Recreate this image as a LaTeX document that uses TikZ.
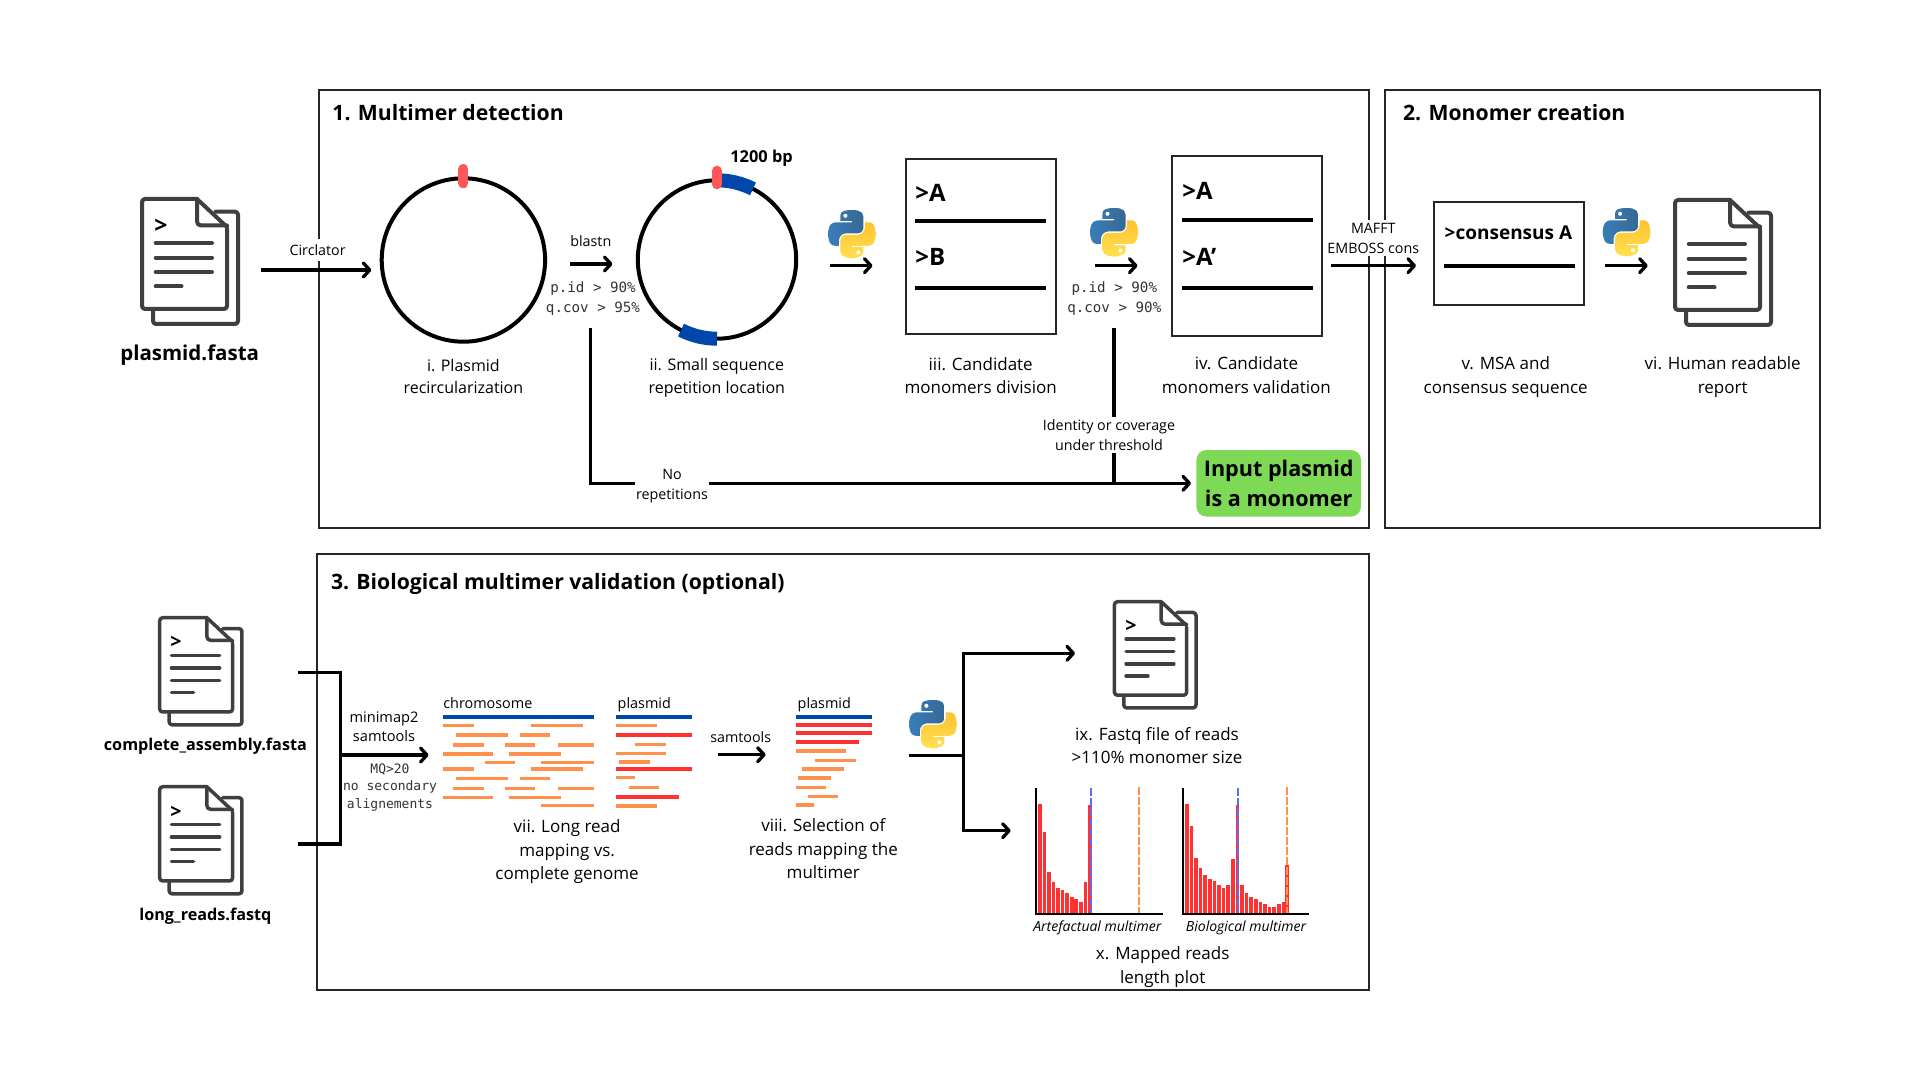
\documentclass[tikz,border=0pt]{standalone}
\usepackage{fontspec}
\usetikzlibrary{arrows.meta,svg.path}
\setmainfont{Open Sans}
\newfontfamily\monof{DejaVu Sans Mono}
\definecolor{filegray}{HTML}{3F3F3F}
\definecolor{seqblue}{HTML}{0047AB}
\definecolor{markred}{HTML}{FF5757}
\definecolor{readorange}{HTML}{FF914D}
\definecolor{readred}{HTML}{FF3131}
\definecolor{okgreen}{HTML}{7ED957}
\definecolor{dashblue}{HTML}{5271FF}
\definecolor{pyblueA}{HTML}{387EB8}
\definecolor{pyblueB}{HTML}{366994}
\definecolor{pyyelA}{HTML}{FFE052}
\definecolor{pyyelB}{HTML}{FFC331}
\newcommand\fs[2]{\fontsize{#1pt}{#2pt}\selectfont}
\tikzset{
  frame/.style={draw=black!85,line width=1pt},
  arr/.style={line width=1.65pt,-{Straight Barb[length=3.2pt,width=7pt,line cap=round,round]}},
  conn/.style={line width=1.65pt},
  seqbox/.style={draw=black!85,line width=1.1pt,minimum width=#1,inner sep=0pt},
  sepline/.style={line width=1.9pt},
  captxt/.style={font=\fs{8.5}{11.75},align=center,inner sep=0pt},
  smallcap/.style={font=\fs{8}{11.2},align=center,inner sep=0pt},
  tool/.style={font=\fs{7.15}{10},align=center,inner sep=0pt},
  monotxt/.style={font=\monof\fs{7.1}{10},align=center,inner sep=0pt,text=black!80},
  head/.style={font=\bfseries\fs{10.6}{12},anchor=west,inner sep=0pt},
  fname/.style={font=\bfseries\fs{8.1}{10},inner sep=0pt},
  boxlab/.style={font=\bfseries\fs{12}{14},anchor=west,inner sep=0pt},
  seqlab/.style={font=\fs{7.2}{9},anchor=west,inner sep=0pt},
  itallab/.style={font=\itshape\fs{7}{8},inner sep=0pt},
  read/.style={line width=1.7pt,readorange},
  mapped/.style={line width=1.9pt,readred},
  refseq/.style={line width=2pt,seqblue},
  axisl/.style={line width=.9pt,black},
  bar/.style={fill=readred,draw=none},
  dashl/.style={line width=1pt,dash pattern=on 4pt off 1pt},
}
% file icon: #1 x, #2 y, #3 scale, #4 stroke width in pt
\newcommand\fileicon[4]{%
  \begin{scope}[shift={(#1,#2)},scale=#3,draw=filegray,line width=#4pt,line join=round,line cap=round]
    \draw[rounded corners=1.5pt] (75.6,14.7) -- (98,14.7) -- (98,127) -- (13,127) -- (13,114);
    \draw[rounded corners=1.5pt] (87,32) -- (87,112) -- (2,112) -- (2,2) -- (57,2);
    \draw (57,2) -- (87,30);
    \draw[rounded corners=2pt] (57,2) -- (57,28.5) -- (87,28.5);
    \draw (15.7,46) -- (72,46);
    \draw (15.7,60.7) -- (72,60.7);
    \draw (15.7,75) -- (72,75);
    \draw (15.7,89.5) -- (41.5,89.5);
  \end{scope}}
% python logo: #1 x, #2 y, #3 size in px
\newcommand\pylogo[3]{%
  \begin{scope}[shift={(#1,#2)},xscale={#3*0.5/110.4},yscale={-#3*0.5/110.4}]
    \path[even odd rule,left color=pyblueA,right color=pyblueB]
      svg {M 54.919 0.001 c -4.584 0.022 -8.961 0.413 -12.813 1.095 C 30.76 3.099 28.7 7.295 28.7 15.032 v 10.219 h 26.813 v 3.406 H 28.7 H 18.638 c -7.793 0 -14.616 4.684 -16.75 13.594 c -2.462 10.213 -2.571 16.586 0 27.25 c 1.906 7.938 6.457 13.594 14.25 13.594 h 9.219 v -12.25 c 0 -8.85 7.657 -16.656 16.75 -16.656 h 26.781 c 7.454 0 13.406 -6.138 13.406 -13.625 V 15.032 c 0 -7.266 -6.13 -12.725 -13.406 -13.937 C 64.282 0.328 59.502 -0.02 54.919 0.001 z M 40.419 8.22 c 2.77 0 5.031 2.299 5.031 5.125 c 0 2.816 -2.262 5.094 -5.031 5.094 c -2.779 0 -5.031 -2.277 -5.031 -5.094 c 0 -2.826 2.252 -5.125 5.031 -5.125 z};
    \path[even odd rule,bottom color=pyyelA,top color=pyyelB]
      svg {M 85.638 28.657 v 11.906 c 0 9.231 -7.826 17 -16.75 17 H 42.106 c -7.336 0 -13.406 6.278 -13.406 13.625 v 25.531 c 0 7.266 6.319 11.54 13.406 13.625 c 8.487 2.496 16.626 2.947 26.781 0 c 6.75 -1.954 13.406 -5.888 13.406 -13.625 v -10.219 H 55.512 v -3.406 h 26.781 h 13.406 c 7.793 0 10.696 -5.436 13.406 -13.594 c 2.8 -8.4 2.68 -16.477 0 -27.25 c -1.927 -7.757 -5.604 -13.594 -13.406 -13.594 z M 70.575 93.313 c 2.779 0 5.031 2.277 5.031 5.094 c 0 2.826 -2.252 5.125 -5.031 5.125 c -2.77 0 -5.031 -2.299 -5.031 -5.125 c 0 -2.816 2.262 -5.094 5.031 -5.094 z};
  \end{scope}}
\begin{document}
\begin{tikzpicture}[x=0.5pt,y=-0.5pt]
\useasboundingbox (0,0) rectangle (1920,1080);
\fill[white] (0,0) rectangle (1920,1080);

% frames
\draw[frame] (318.5,90.3) rectangle (1369.3,527.7);
\draw[frame] (1384.7,90.3) rectangle (1820,527.7);
\draw[frame] (317,553.5) rectangle (1369.3,990);
\node[head] (t1) at (332,112.7) {1. Multimer detection};
\node[head] (t2) at (1402.7,112.7) {2. Monomer creation};
\node[head] (t3) at (330.6,583.5) {3. Biological multimer validation (optional)};

% input file
\fileicon{140}{197}{1}{2}
\node[font=\bfseries\fs{11.5}{12},inner sep=0pt] (gt0) at (161,226.7) {>};
\node[font=\bfseries\fs{10.25}{12},inner sep=0pt] (plasmidfasta) at (189.7,355.3) {plasmid.fasta};

% Circlator
\coordinate (c0) at (261.4,270);
\coordinate (c1) at (371.4,270);
\node[tool,fill=white,inner xsep=2pt,inner ysep=2.5pt] (circlator) at (317.6,250) {Circlator};
\draw[arr] (c0) -- (c1);

% plasmid circles
\node[circle,draw,line width=2pt,minimum size=81.7pt,inner sep=0pt] (circ1) at (463.4,260) {};
\draw[markred,line width=5pt,line cap=round] (463.4,169) -- (463.4,183.3);
\node[smallcap] (capi) at (463.4,376.2) {i. Plasmid\\recircularization};

\node[circle,draw,line width=2pt,minimum size=79.2pt,inner sep=0pt] (circ2) at (717,259.5) {};
\draw[seqblue,line width=7pt] (717,180.3) arc[start angle=270,end angle=297,radius=79.2];
\draw[seqblue,line width=7pt] (717,338.7) arc[start angle=90,end angle=117,radius=79.2];
\draw[markred,line width=5pt,line cap=round] (716.8,170.7) -- (716.8,184.3);
\node[font=\bfseries\fs{8.2}{9},inner sep=0pt] (bp) at (761.6,158.7) {1200 bp};
\node[smallcap] (capii) at (716.8,378) {ii. Small sequence\\repetition location};

% blastn
\coordinate (b0) at (570,264);
\coordinate (b1) at (612.5,264);
\draw[arr] (b0) -- (b1);
\node[tool] (blastn) at (590.8,241) {blastn};
\node[monotxt] (pid1) at (593,298.7) {p.id > 90\%\\q.cov > 95\%};

% no repetitions branch
\coordinate (n0) at (590.8,328);
\coordinate (jn) at (1114,483.3);
\node[tool,fill=white,inner xsep=.5pt,inner ysep=1pt] (norep) at (672,486.5) {No\\repetitions};
\node[draw=none,fill=okgreen,rounded corners=5pt,minimum width=82.3pt,minimum height=33.3pt,inner sep=0pt,font=\bfseries\fs{10.8}{15},align=center] (mono) at (1278.7,483.3) {Input plasmid\\is a monomer};
\draw[conn] (n0) |- (norep.west |- jn);
\draw[arr,shorten >=2.5pt] (norep.east |- jn) -- (mono.west |- jn);

% python + iii
\pylogo{828}{210}{47.5}
\coordinate (p0) at (830.4,265.7);
\coordinate (p1) at (872.5,265.7);
\draw[arr] (p0) -- (p1);
\node[seqbox=75.35pt,minimum height=87.65pt] (boxiii) at (981,246.4) {};
\node[boxlab] (a3) at (915,192.7) {>A};
\coordinate (l3a) at (915,221.3); \coordinate (l3b) at (1046,221.3);
\draw[sepline] (l3a) -- (l3b);
\node[boxlab] (b3) at (915,256.7) {>B};
\coordinate (l3c) at (915,287.7); \coordinate (l3d) at (1046,287.7);
\draw[sepline] (l3c) -- (l3d);
\node[captxt] (capiii) at (980.7,375.8) {iii. Candidate\\monomers division};

% python + iv
\pylogo{1090}{208}{47.8}
\coordinate (q0) at (1095.4,265.7);
\coordinate (q1) at (1137.5,265.7);
\draw[arr] (q0) -- (q1);
\node[monotxt] (pid2) at (1114.3,298.7) {p.id > 90\%\\q.cov > 90\%};
\coordinate (i0) at (1114,328);
\node[tool,fill=white,inner xsep=1pt,inner ysep=1pt] (idlab) at (1109,435) {Identity or coverage\\under threshold};
\draw[conn] (i0) -- (i0 |- idlab.north);
\draw[conn] (i0 |- idlab.south) -- (jn);
\node[seqbox=75pt,minimum height=90pt] (boxiv) at (1246.8,245.7) {};
\node[boxlab] (a4) at (1182,190.7) {>A};
\coordinate (l4a) at (1182,220); \coordinate (l4b) at (1312.9,220);
\draw[sepline] (l4a) -- (l4b);
\node[boxlab] (b4) at (1182,256.7) {>A’};
\coordinate (l4c) at (1182,288); \coordinate (l4d) at (1312.9,288);
\draw[sepline] (l4c) -- (l4d);
\node[captxt] (capiv) at (1246.4,375.3) {iv. Candidate\\monomers validation};

% MAFFT
\node[tool,fill=white,inner xsep=0pt,inner ysep=1.5pt] (mafft) at (1373.3,238) {MAFFT\\EMBOSS cons};
\coordinate (m0) at (1331,265.7);
\coordinate (m1) at (1416,265.7);
\draw[arr] (m0) -- (m1);

% v
\node[seqbox=75pt,minimum height=51.8pt] (boxv) at (1509,253.5) {};
\node[font=\bfseries\fs{9.5}{11},anchor=west,inner sep=0pt] (cons) at (1444.3,232.7) {>consensus A};
\coordinate (l5a) at (1444.3,266); \coordinate (l5b) at (1575.3,266);
\draw[sepline] (l5a) -- (l5b);
\node[captxt] (capv) at (1505.7,377.3) {v. MSA and\\consensus sequence};

% vi
\pylogo{1602.7}{208}{47.5}
\coordinate (r0) at (1605.3,265.7);
\coordinate (r1) at (1647.7,265.7);
\draw[arr] (r0) -- (r1);
\fileicon{1673}{198}{1}{2}
\node[captxt] (capvi) at (1722.7,377) {vi. Human readable\\report};

% input files part 3
\fileicon{158}{616}{.857}{1.75}
\node[font=\bfseries\fs{9.8}{10},inner sep=0pt] (gt1) at (176,642) {>};
\node[fname] (assembly) at (205.4,746) {complete\_assembly.fasta};
\fileicon{158}{785}{.857}{1.75}
\node[font=\bfseries\fs{9.8}{10},inner sep=0pt] (gt2) at (176,812) {>};
\node[fname] (longreads) at (205.4,916.3) {long\_reads.fastq};

% bracket
\coordinate (k0) at (298,672.7); \coordinate (k1) at (340.4,672.7);
\coordinate (k2) at (340.4,844); \coordinate (k3) at (298,844);
\draw[conn,line join=miter] (k0) -- (k1) -- (k2) -- (k3);
\coordinate (k4) at (340.4,755); \coordinate (k5) at (428.6,755);
\draw[arr] (k4) -- (k5);
\node[tool,font=\fs{7.3}{9.3}] (mini) at (384,727) {minimap2\\samtools};
\node[font=\monof\fs{6.5}{8.8},align=center,inner sep=0pt,text=black!80] (mq) at (390,787.5) {MQ>20\\no secondary\\alignements};

% vii reads
\node[seqlab] (chrom) at (442.9,703.3) {chromosome};
\coordinate (ch0) at (442.9,717.3); \coordinate (ch1) at (593.6,717.3);
\draw[refseq] (ch0) -- (ch1);
\foreach \yy/\aa/\bb in {377/960/1048,377/1207/1353,405/997/1142,405/1176/1260,435/988/1076,435/1133/1218,435/1281/1382,462/960/1100,462/1144/1291,487/1077/1162,487/1236/1382,507/960/1048,507/1207/1353,535/997/1142,535/1176/1260,565/988/1076,565/1133/1218,565/1281/1382,592/960/1100,592/1144/1291,617/1236/1382}
  \draw[read] ({100+\aa/2.8},{600+\yy/3}) -- ({100+\bb/2.8},{600+\yy/3});
\node[seqlab] (pl1) at (617.3,704.3) {plasmid};
\coordinate (pl1a) at (616,717.3); \coordinate (pl1b) at (692.3,717.3);
\draw[refseq] (pl1a) -- (pl1b);
\foreach \yy/\aa/\bb in {137/48/172,193/104/198,221/48/198,246/58/149,292/48/104,323/86/176,378/48/172}
  \draw[read] ({600+\aa/3},{680+\yy/3}) -- ({600+\bb/3},{680+\yy/3});
\foreach \yy/\aa/\bb in {165/48/277,267/48/277,352/48/237}
  \draw[mapped] ({600+\aa/3},{680+\yy/3}) -- ({600+\bb/3},{680+\yy/3});
\node[captxt] (capvii) at (567.1,851.7) {vii. Long read\\mapping vs.\\complete genome};

% samtools
\node[tool] (samt) at (740.7,737.3) {samtools};
\coordinate (s0) at (717.7,754.7); \coordinate (s1) at (765.7,754.7);
\draw[arr] (s0) -- (s1);

% viii reads
\node[seqlab] (pl2) at (797.3,704.3) {plasmid};
\coordinate (pl2a) at (795.7,716.7); \coordinate (pl2b) at (872,716.7);
\draw[refseq] (pl2a) -- (pl2b);
\foreach \yy/\aa/\bb in {134/587/816,159/587/816,185/587/776}
  \draw[mapped] ({600+\aa/3},{680+\yy/3}) -- ({600+\bb/3},{680+\yy/3});
\foreach \yy/\aa/\bb in {213/587/737,242/644/767,267/607/732,294/593/693,323/587/677,350/625/715,375/587/643}
  \draw[read] ({600+\aa/3},{680+\yy/3}) -- ({600+\bb/3},{680+\yy/3});
\node[captxt] (capviii) at (823.3,849) {viii. Selection of\\reads mapping the\\multimer};

% python split
\pylogo{909}{700}{47.5}
\coordinate (v0) at (909,755.3); \coordinate (v1) at (963.3,755.3);
\coordinate (v2) at (963.3,653.3); \coordinate (v3) at (1075,653.3);
\coordinate (v4) at (963.3,830.7); \coordinate (v5) at (1010.7,830.7);
\draw[conn] (v0) -- (v1);
\draw[arr] (v1) -- (v2) -- (v3);
\draw[arr] (v1) -- (v4) -- (v5);

% ix
\fileicon{1112.7}{600}{.85}{1.75}
\node[font=\bfseries\fs{9.8}{10},inner sep=0pt] (gt3) at (1131,626) {>};
\node[captxt] (capix) at (1157,745.6) {ix. Fastq file of reads\\>110\% monomer size};

% chart 1
\foreach \xx/\tt in {84/103,98/186,111/306,125/335,139/354,152/361,166/370,180/382,193/387,207/396,221/335,235/105}
  \fill[bar] ({1010+\xx/3},{770+\tt/3}) rectangle ({1010+(\xx+11)/3},{770+432/3});
\draw[dashblue,dashl] ({1010+242/3},{770+55/3}) -- ({1010+242/3},{770+432/3});
\draw[readorange,dashl] ({1010+388/3},{770+50/3}) -- ({1010+388/3},{770+432/3});
\coordinate (ax1t) at ({1010+78/3},{770+55/3}); \coordinate (ax1o) at ({1010+78/3},{770+432/3}); \coordinate (ax1r) at ({1010+458/3},{770+432/3});
\draw[axisl] (ax1t) -- (ax1o) -- (ax1r);
\node[itallab] (art) at (1097.3,928) {Artefactual multimer};

% chart 2
\foreach \xx/\tt in {525/103,539/169,552/265,566/294,580/315,594/327,608/334,621/345,635/354,649/345,663/267,677/105,690/345,704/369,718/380,732/387,746/395,759/403,773/411,787/411,801/403,815/395,826/285}
  \fill[bar] ({1010+\xx/3},{770+\tt/3}) rectangle ({1010+(\xx+11)/3},{770+432/3});
\draw[dashblue,dashl] ({1010+684/3},{770+55/3}) -- ({1010+684/3},{770+432/3});
\draw[readorange,dashl] ({1010+830/3},{770+50/3}) -- ({1010+830/3},{770+432/3});
\coordinate (ax2t) at ({1010+520/3},{770+55/3}); \coordinate (ax2o) at ({1010+520/3},{770+432/3}); \coordinate (ax2r) at ({1010+898/3},{770+432/3});
\draw[axisl] (ax2t) -- (ax2o) -- (ax2r);
\node[itallab] (bio) at (1246,928) {Biological multimer};
\node[captxt] (capx) at (1162.7,967) {x. Mapped reads\\length plot};
\end{tikzpicture}
\end{document}
